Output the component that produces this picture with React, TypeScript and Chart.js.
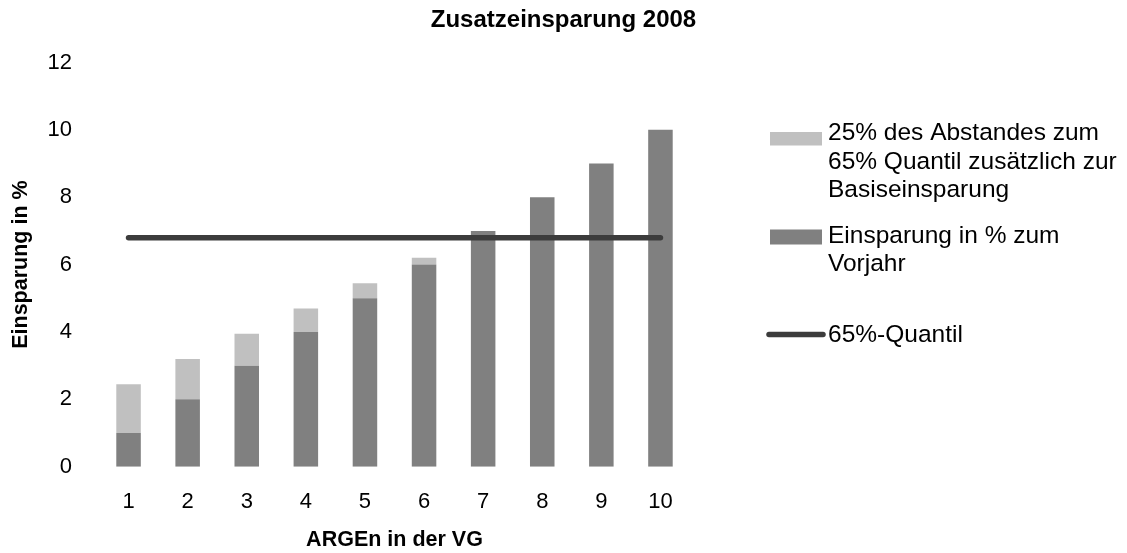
import React, { useEffect, useRef } from 'react';
import { Chart, registerables } from 'chart.js';

Chart.register(...registerables);

const categories = ['1', '2', '3', '4', '5', '6', '7', '8', '9', '10'];
const baseSavings = [1, 2, 3, 4, 5, 6, 7, 8, 9, 10];
const extraSavings = [1.45, 1.2, 0.95, 0.7, 0.45, 0.2, 0, 0, 0, 0];
const quantile65 = [6.8, 6.8, 6.8, 6.8, 6.8, 6.8, 6.8, 6.8, 6.8, 6.8];
const yTicks = [0, 2, 4, 6, 8, 10, 12];

const extraLabel = ['25% des Abstandes zum', '65% Quantil zusätzlich zur', 'Basiseinsparung'];
const baseLabel = ['Einsparung in % zum', 'Vorjahr'];
const quantileLabel = ['65%-Quantil'];

const chartTitle = 'Zusatzeinsparung 2008';
const xTitle = 'ARGEn in der VG';
const yTitle = 'Einsparung in %';

const FONT = '"Liberation Sans", Arial, sans-serif';
const LIGHT = '#c0c0c0';
const DARK = '#808080';
const LINE = '#3c3c3c';

const sideLegend = {
  id: 'sideLegend',
  afterDraw(chart: any) {
    const ctx = chart.ctx as CanvasRenderingContext2D;
    const ds = chart.data.datasets;
    const x0 = chart.chartArea.right + 80;
    const swW = 52;
    const textX = x0 + 58;
    const lineH = 28.5;
    const items = [
      { i: 1, kind: 'box', top: 132, h: 13.5, base: 140 },
      { i: 0, kind: 'box', top: 229.5, h: 15, base: 242.5 },
      { i: 2, kind: 'line', top: 334.5, h: 0, base: 341.5 },
    ];
    ctx.save();
    ctx.font = `24.5px ${FONT}`;
    ctx.textAlign = 'left';
    ctx.textBaseline = 'alphabetic';
    for (const it of items) {
      const d = ds[it.i];
      if (it.kind === 'box') {
        ctx.fillStyle = d.backgroundColor;
        ctx.fillRect(x0, it.top, swW, it.h);
      } else {
        ctx.strokeStyle = d.borderColor;
        ctx.lineWidth = 5.5;
        ctx.lineCap = 'round';
        ctx.beginPath();
        ctx.moveTo(x0 - 1, it.top);
        ctx.lineTo(x0 + swW + 1, it.top);
        ctx.stroke();
      }
      ctx.fillStyle = '#000';
      const lines: string[] = d.label.split('\n');
      lines.forEach((ln, k) => ctx.fillText(ln, textX, it.base + k * lineH));
    }
    ctx.restore();
  },
};

export default function App() {
  const ref = useRef<HTMLCanvasElement>(null);
  useEffect(() => {
    if (!ref.current) return;
    const chart = new Chart(ref.current, {
      type: 'bar',
      data: {
        labels: categories,
        datasets: [
          {
            type: 'bar',
            label: baseLabel.join('\n'),
            data: baseSavings,
            backgroundColor: DARK,
            stack: 'bars',
            order: 1,
            barPercentage: 0.415,
            categoryPercentage: 1,
          },
          {
            type: 'bar',
            label: extraLabel.join('\n'),
            data: extraSavings,
            backgroundColor: LIGHT,
            stack: 'bars',
            order: 1,
            barPercentage: 0.415,
            categoryPercentage: 1,
          },
          {
            type: 'line',
            label: quantileLabel.join('\n'),
            data: quantile65,
            borderColor: LINE,
            backgroundColor: LINE,
            borderWidth: 5.5,
            borderCapStyle: 'round',
            pointRadius: 0,
            fill: false,
            stack: 'line',
            order: 0,
          } as any,
        ],
      },
      options: {
        responsive: false,
        animation: false,
        layout: { padding: 0 },
        plugins: {
          legend: { display: false },
          tooltip: { enabled: false },
          title: {
            display: true,
            text: chartTitle,
            color: '#000',
            font: { family: FONT, size: 24, weight: 'bold' },
            padding: { top: 5.6, bottom: 28.1 },
          },
        },
        scales: {
          x: {
            stacked: true,
            grid: { display: false },
            border: { display: false },
            ticks: { color: '#000', font: { family: FONT, size: 22 }, padding: 14 },
            title: {
              display: true,
              text: xTitle,
              color: '#000',
              font: { family: FONT, size: 21.5, weight: 'bold' },
              padding: { top: 0, bottom: 0 },
            },
            afterFit: (s: any) => {
              s.height = 86.3;
            },
          },
          y: {
            stacked: true,
            min: yTicks[0],
            max: yTicks[yTicks.length - 1],
            grid: { display: false },
            border: { display: false },
            ticks: {
              stepSize: yTicks[1] - yTicks[0],
              color: '#000',
              font: { family: FONT, size: 22 },
              padding: 19,
            },
            title: {
              display: true,
              text: yTitle,
              color: '#000',
              font: { family: FONT, size: 21.5, weight: 'bold' },
              padding: { top: 8.3, bottom: 0 },
            },
            afterFit: (s: any) => {
              s.width = 99;
            },
          },
          legendSpace: {
            type: 'linear',
            position: 'right',
            display: true,
            grid: { display: false },
            border: { display: false },
            ticks: { display: false },
            afterFit: (s: any) => {
              s.width = 437;
            },
          },
        },
      },
      plugins: [sideLegend],
    });
    return () => chart.destroy();
  }, []);
  return (
    <div style={{ position: 'absolute', left: 0, top: 0, width: 1127, height: 553, background: '#fff' }}>
      <canvas ref={ref} width={1127} height={553} style={{ display: 'block' }} />
    </div>
  );
}
